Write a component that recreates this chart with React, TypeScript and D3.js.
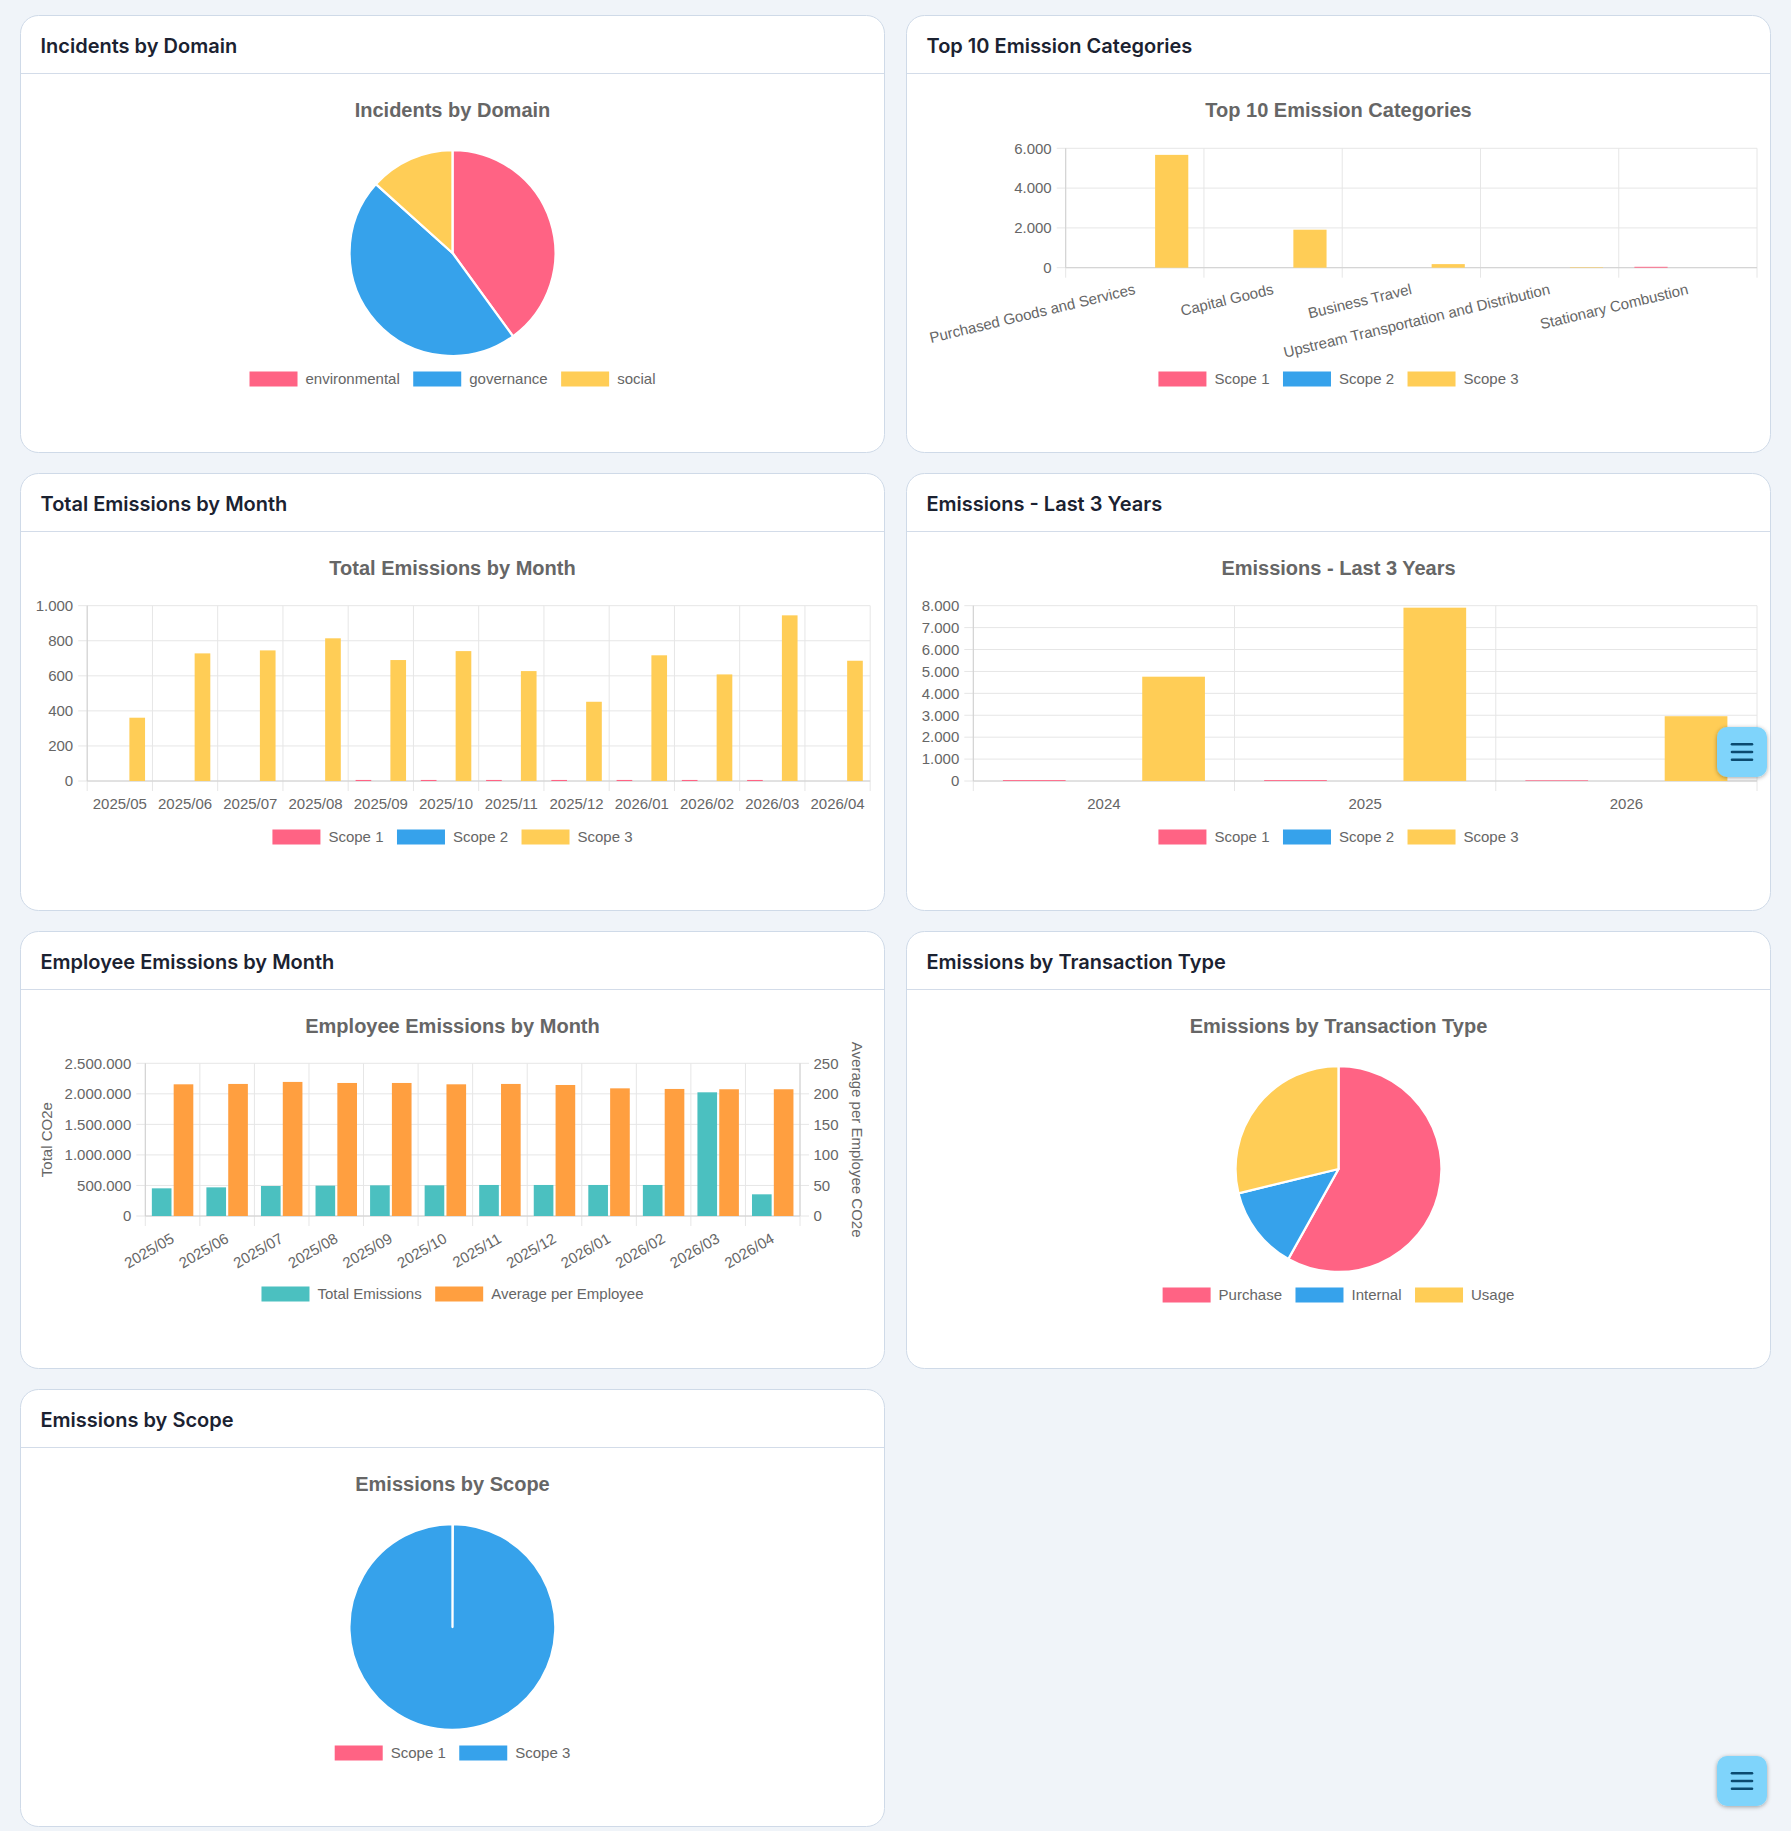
import React, { useEffect, useRef } from 'react';
import * as d3 from 'd3';

const PINK = '#ff6384';
const BLUE = '#36a2eb';
const YELLOW = '#ffcd56';
const TEAL = '#4bc0c0';
const ORANGE = '#ff9f40';

// Incidents by Domain
const domainLabels = ['environmental', 'governance', 'social'];
const domainCounts = [6, 7, 2];

// Top 10 Emission Categories
const categoryLabels = [
  'Purchased Goods and Services',
  'Capital Goods',
  'Business Travel',
  'Upstream Transportation and Distribution',
  'Stationary Combustion',
];
const categoryScope1 = [0, 0, 0, 0, 45];
const categoryScope2 = [0, 0, 0, 0, 0];
const categoryScope3 = [5670, 1910, 180, 25, 0];

// Total Emissions by Month
const months = [
  '2025/05', '2025/06', '2025/07', '2025/08', '2025/09', '2025/10',
  '2025/11', '2025/12', '2026/01', '2026/02', '2026/03', '2026/04',
];
const monthScope1 = [0, 0, 0, 0, 6, 6, 6, 6, 6, 6, 6, 0];
const monthScope2 = [0, 0, 0, 0, 0, 0, 0, 0, 0, 0, 0, 0];
const monthScope3 = [361, 728, 745, 814, 690, 741, 627, 452, 717, 608, 945, 686];
const monthTicks = [0, 200, 400, 600, 800, 1000];

// Emissions - Last 3 Years
const years = ['2024', '2025', '2026'];
const yearScope1 = [40, 40, 30];
const yearScope2 = [0, 0, 0];
const yearScope3 = [4760, 7910, 2956];
const yearTicks = [0, 1000, 2000, 3000, 4000, 5000, 6000, 7000, 8000];

// Employee Emissions by Month
const employeeTotals = [453000, 469000, 491000, 497000, 502000, 502000, 508000, 508000, 508000, 508000, 2025000, 355000];
const employeeAverages = [215.6, 216.2, 219.5, 217.8, 217.8, 215.6, 216.2, 214.5, 209, 208, 207.5, 207.5];
const employeeTotalTicks = [0, 500000, 1000000, 1500000, 2000000, 2500000];
const employeeAvgTicks = [0, 50, 100, 150, 200, 250];

// Emissions by Transaction Type
const transactionLabels = ['Purchase', 'Internal', 'Usage'];
const transactionValues = [581, 131, 288];

// Emissions by Scope
const scopeLabels = ['Scope 1', 'Scope 3'];
const scopeValues = [8, 15600];

const scopeNames = ['Scope 1', 'Scope 2', 'Scope 3'];

const WIDTH = 1791;
const HEIGHT = 1831;
const CARD_W = 865;
const CARD_H = 438;
const COLS = [20, 906];
const ROWS = [15, 473, 931, 1389];

const CHART_FONT = '"Liberation Sans", Arial, Helvetica, sans-serif';
const TEXT_GRAY = '#666';
const GRID = '#e6e6e6';
const AXIS = '#d0d0d0';

const de = d3.formatLocale({ decimal: ',', thousands: '.', grouping: [3], currency: ['', ' €'] });
const fmt = de.format(',');

function drawCard(svg, x, y, title) {
  const g = svg.append('g').attr('transform', `translate(${x},${y})`);
  g.append('rect')
    .attr('x', 0.5).attr('y', 0.5)
    .attr('width', CARD_W - 1).attr('height', CARD_H - 1)
    .attr('rx', 18)
    .attr('fill', '#fff')
    .attr('stroke', '#cfdae8');
  g.append('line')
    .attr('x1', 1).attr('x2', CARD_W - 1)
    .attr('y1', 58.5).attr('y2', 58.5)
    .attr('stroke', '#d3dce9');
  g.append('text')
    .attr('x', 20.5).attr('y', 37.5)
    .attr('font-family', 'Inter, "Noto Sans", sans-serif')
    .attr('font-weight', 600)
    .attr('font-size', 20)
    .attr('fill', '#1b2231')
    .text(title);
  return g;
}

function drawChartTitle(g, text) {
  g.append('text')
    .attr('x', CARD_W / 2).attr('y', 101.5)
    .attr('text-anchor', 'middle')
    .attr('font-family', CHART_FONT)
    .attr('font-weight', 700)
    .attr('font-size', 20)
    .attr('fill', TEXT_GRAY)
    .text(text);
}

function drawLegend(g, labels, colors, cy) {
  const boxW = 48, boxH = 15, gap = 8, pad = 13.5;
  const lg = g.append('g');
  let x = 0;
  labels.forEach((label, i) => {
    lg.append('rect')
      .attr('x', x).attr('y', cy - boxH / 2)
      .attr('width', boxW).attr('height', boxH)
      .attr('fill', colors[i]);
    const t = lg.append('text')
      .attr('x', x + boxW + gap).attr('y', cy)
      .attr('dy', '0.35em')
      .attr('font-family', CHART_FONT)
      .attr('font-size', 15)
      .attr('fill', TEXT_GRAY)
      .text(label);
    const w = t.node().getComputedTextLength();
    x += boxW + gap + w + pad;
  });
  const total = x - pad;
  lg.attr('transform', `translate(${CARD_W / 2 - total / 2},0)`);
}

function drawPie(g, labels, values, colors) {
  const pie = d3.pie().sort(null).value(d => d);
  const arc = d3.arc().innerRadius(0).outerRadius(103);
  g.append('g')
    .attr('transform', `translate(${CARD_W / 2},238)`)
    .selectAll('path')
    .data(pie(values))
    .join('path')
    .attr('d', arc)
    .attr('fill', (d, i) => colors[i])
    .attr('stroke', '#fff')
    .attr('stroke-width', 2.3)
    .attr('stroke-linejoin', 'round');
  drawLegend(g, labels, colors, 364);
}

function drawBars(g, o) {
  const x = d3.scaleBand().domain(o.labels).range([o.left, o.right]);
  const bw = x.bandwidth();
  const slot = d3.scaleBand()
    .domain(d3.range(o.series.length))
    .range([0.1 * bw, 0.9 * bw])
    .paddingInner(0.1)
    .paddingOuter(0.05);
  const yL = d3.scaleLinear().domain([0, o.yMax]).range([o.bottom, o.top]);
  const yR = o.rightMax ? d3.scaleLinear().domain([0, o.rightMax]).range([o.bottom, o.top]) : null;

  const grid = g.append('g');
  grid.selectAll('line.h')
    .data(o.yTicks)
    .join('line')
    .attr('class', 'h')
    .attr('x1', o.left - 9)
    .attr('x2', yR ? o.right + 9 : o.right)
    .attr('y1', d => yL(d))
    .attr('y2', d => yL(d))
    .attr('stroke', GRID);
  const bounds = o.labels.map(l => x(l)).concat([o.right]);
  grid.selectAll('line.v')
    .data(bounds)
    .join('line')
    .attr('class', 'v')
    .attr('x1', d => d).attr('x2', d => d)
    .attr('y1', o.top)
    .attr('y2', o.bottom + 10)
    .attr('stroke', GRID);
  grid.append('line')
    .attr('x1', o.left).attr('x2', o.left)
    .attr('y1', o.top).attr('y2', o.bottom)
    .attr('stroke', AXIS);
  grid.append('line')
    .attr('x1', o.left).attr('x2', o.right)
    .attr('y1', o.bottom).attr('y2', o.bottom)
    .attr('stroke', AXIS);
  if (yR) {
    grid.append('line')
      .attr('x1', o.right).attr('x2', o.right)
      .attr('y1', o.top).attr('y2', o.bottom)
      .attr('stroke', AXIS);
  }

  o.series.forEach((s, si) => {
    const y = s.axis === 'right' && yR ? yR : yL;
    g.append('g')
      .selectAll('rect')
      .data(s.values)
      .join('rect')
      .attr('x', (d, i) => x(o.labels[i]) + slot(si))
      .attr('width', slot.bandwidth())
      .attr('y', d => y(d))
      .attr('height', d => o.bottom - y(d))
      .attr('fill', s.color);
  });

  const left = g.append('g')
    .attr('transform', `translate(${o.left},0)`)
    .call(d3.axisLeft(yL).tickValues(o.yTicks).tickFormat(d => fmt(d)).tickSize(0).tickPadding(14));
  left.select('.domain').remove();
  left.attr('font-family', CHART_FONT).attr('font-size', 15);
  left.selectAll('text').attr('fill', TEXT_GRAY);

  if (yR) {
    const right = g.append('g')
      .attr('transform', `translate(${o.right},0)`)
      .call(d3.axisRight(yR).tickValues(o.rightTicks).tickFormat(d => fmt(d)).tickSize(0).tickPadding(13.5));
    right.select('.domain').remove();
    right.attr('font-family', CHART_FONT).attr('font-size', 15);
    right.selectAll('text').attr('fill', TEXT_GRAY);
  }

  const bottom = g.append('g')
    .attr('transform', `translate(0,${o.bottom})`)
    .call(d3.axisBottom(x).tickSize(0).tickPadding(17));
  bottom.select('.domain').remove();
  bottom.attr('font-family', CHART_FONT).attr('font-size', 15);
  bottom.selectAll('text').attr('fill', TEXT_GRAY);
  if (o.rotate) {
    bottom.selectAll('text')
      .attr('y', 0)
      .attr('dy', '0.35em')
      .attr('text-anchor', 'end')
      .attr('transform', `translate(0,${o.labelOffset}) rotate(${-o.rotate})`);
  }

  if (o.leftTitle) {
    const cy = (o.top + o.bottom) / 2;
    g.append('text')
      .attr('transform', `translate(26.7,${cy}) rotate(-90)`)
      .attr('text-anchor', 'middle')
      .attr('dy', '0.35em')
      .attr('font-family', CHART_FONT)
      .attr('font-size', 15)
      .attr('fill', TEXT_GRAY)
      .text(o.leftTitle);
  }
  if (o.rightTitle) {
    const cy = (o.top + o.bottom) / 2;
    g.append('text')
      .attr('transform', `translate(${o.right + 57},${cy}) rotate(90)`)
      .attr('text-anchor', 'middle')
      .attr('dy', '0.35em')
      .attr('font-family', CHART_FONT)
      .attr('font-size', 15)
      .attr('fill', TEXT_GRAY)
      .text(o.rightTitle);
  }
}

function drawMenuButton(svg, x, y) {
  const g = svg.append('g').attr('transform', `translate(${x},${y})`);
  g.append('rect')
    .attr('width', 50).attr('height', 50)
    .attr('rx', 10)
    .attr('fill', '#7fd4fb')
    .attr('filter', 'url(#btnShadow)');
  [-7.7, 0, 7.7].forEach(dy => {
    g.append('line')
      .attr('x1', 15).attr('x2', 35)
      .attr('y1', 25 + dy).attr('y2', 25 + dy)
      .attr('stroke', '#0b4a6f')
      .attr('stroke-width', 2.6)
      .attr('stroke-linecap', 'round');
  });
}

const App = () => {
  const svgRef = useRef(null);

  useEffect(() => {
    const svg = d3.select(svgRef.current);
    svg.selectAll('*').remove();

    svg.append('rect').attr('width', WIDTH).attr('height', HEIGHT).attr('fill', '#f0f4f9');
    const defs = svg.append('defs');
    defs.append('filter')
      .attr('id', 'btnShadow')
      .attr('x', '-30%').attr('y', '-30%').attr('width', '160%').attr('height', '160%')
      .append('feDropShadow')
      .attr('dx', 0).attr('dy', 1)
      .attr('stdDeviation', 2)
      .attr('flood-color', '#000')
      .attr('flood-opacity', 0.35);

    // Incidents by Domain
    const c1 = drawCard(svg, COLS[0], ROWS[0], 'Incidents by Domain');
    drawChartTitle(c1, 'Incidents by Domain');
    drawPie(c1, domainLabels, domainCounts, [PINK, BLUE, YELLOW]);

    // Top 10 Emission Categories
    const c2 = drawCard(svg, COLS[1], ROWS[0], 'Top 10 Emission Categories');
    drawChartTitle(c2, 'Top 10 Emission Categories');
    drawBars(c2, {
      labels: categoryLabels,
      series: [
        { values: categoryScope1, color: PINK },
        { values: categoryScope2, color: BLUE },
        { values: categoryScope3, color: YELLOW },
      ],
      left: 159.7, right: 851, top: 133.3, bottom: 252.7,
      yMax: 6000, yTicks: [0, 2000, 4000, 6000],
      rotate: 13.5, labelOffset: 21,
    });
    drawLegend(c2, scopeNames, [PINK, BLUE, YELLOW], 364);

    // Total Emissions by Month
    const c3 = drawCard(svg, COLS[0], ROWS[1], 'Total Emissions by Month');
    drawChartTitle(c3, 'Total Emissions by Month');
    drawBars(c3, {
      labels: months,
      series: [
        { values: monthScope1, color: PINK },
        { values: monthScope2, color: BLUE },
        { values: monthScope3, color: YELLOW },
      ],
      left: 67.2, right: 850.2, top: 132.7, bottom: 308,
      yMax: 1000, yTicks: monthTicks,
    });
    drawLegend(c3, scopeNames, [PINK, BLUE, YELLOW], 364);

    // Emissions - Last 3 Years
    const c4 = drawCard(svg, COLS[1], ROWS[1], 'Emissions - Last 3 Years');
    drawChartTitle(c4, 'Emissions - Last 3 Years');
    drawBars(c4, {
      labels: years,
      series: [
        { values: yearScope1, color: PINK },
        { values: yearScope2, color: BLUE },
        { values: yearScope3, color: YELLOW },
      ],
      left: 67.3, right: 851, top: 132.7, bottom: 308,
      yMax: 8000, yTicks: yearTicks,
    });
    drawLegend(c4, scopeNames, [PINK, BLUE, YELLOW], 364);

    // Employee Emissions by Month
    const c5 = drawCard(svg, COLS[0], ROWS[2], 'Employee Emissions by Month');
    drawChartTitle(c5, 'Employee Emissions by Month');
    drawBars(c5, {
      labels: months,
      series: [
        { values: employeeTotals, color: TEAL },
        { values: employeeAverages, color: ORANGE, axis: 'right' },
      ],
      left: 125.3, right: 780, top: 132.3, bottom: 285,
      yMax: 2500000, yTicks: employeeTotalTicks,
      rightMax: 250, rightTicks: employeeAvgTicks,
      rotate: 30, labelOffset: 21,
      leftTitle: 'Total CO2e',
      rightTitle: 'Average per Employee CO2e',
    });
    drawLegend(c5, ['Total Emissions', 'Average per Employee'], [TEAL, ORANGE], 363);

    // Emissions by Transaction Type
    const c6 = drawCard(svg, COLS[1], ROWS[2], 'Emissions by Transaction Type');
    drawChartTitle(c6, 'Emissions by Transaction Type');
    drawPie(c6, transactionLabels, transactionValues, [PINK, BLUE, YELLOW]);

    // Emissions by Scope
    const c7 = drawCard(svg, COLS[0], ROWS[3], 'Emissions by Scope');
    drawChartTitle(c7, 'Emissions by Scope');
    drawPie(c7, scopeLabels, scopeValues, [PINK, BLUE]);

    drawMenuButton(svg, 1717, 727);
    drawMenuButton(svg, 1717, 1756);
  }, []);

  return (
    <svg
      ref={svgRef}
      width={WIDTH}
      height={HEIGHT}
      style={{ position: 'absolute', left: 0, top: 0, display: 'block' }}
    />
  );
};

export default App;
